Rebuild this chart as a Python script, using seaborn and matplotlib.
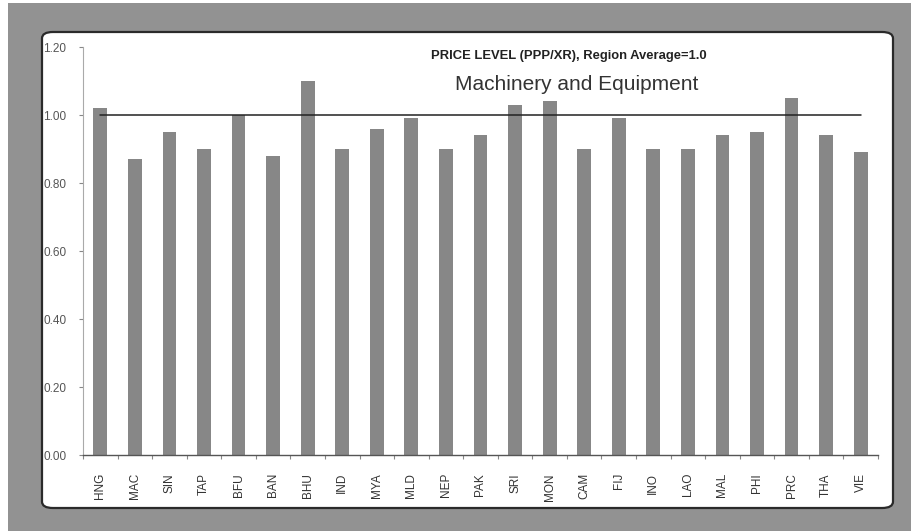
import numpy as np
import matplotlib
matplotlib.use("Agg")
import matplotlib.pyplot as plt
from matplotlib.patches import FancyBboxPatch, Rectangle
import seaborn as sns
import pandas as pd

countries = ["HNG", "MAC", "SIN", "TAP", "BFU", "BAN", "BHU", "IND", "MYA", "MLD",
             "NEP", "PAK", "SRI", "MON", "CAM", "FIJ", "INO", "LAO", "MAL", "PHI",
             "PRC", "THA", "VIE"]
price_level = [1.02, 0.87, 0.95, 0.90, 1.00, 0.88, 1.10, 0.90, 0.96, 0.99,
               0.90, 0.94, 1.03, 1.04, 0.90, 0.99, 0.90, 0.90, 0.94, 0.95,
               1.05, 0.94, 0.89]
region_average = 1.0
yticks = [0.0, 0.2, 0.4, 0.6, 0.8, 1.0, 1.2]
ytick_labels = ["0.00", "0.20", "0.40", "0.60", "0.80", "1.00", "1.20"]

sns.set_theme(style="white")
plt.rcParams['font.family'] = ['Liberation Sans', 'DejaVu Sans']

W, H = 912, 531
fig = plt.figure(figsize=(W / 100, H / 100), dpi=100)
fig.patch.set_facecolor("white")

# gray scanned background
fig.patches.append(Rectangle((8 / W, 0), 1 - 8 / W, 1 - 3 / H, transform=fig.transFigure,
                             facecolor="#929292", edgecolor="none", zorder=0))
# white rounded panel
px0, py0, px1, py1 = 42, 32, 893, 508
fig.patches.append(FancyBboxPatch((px0 / W, 1 - py1 / H), (px1 - px0) / W, (py1 - py0) / H,
                                  boxstyle="round,pad=0,rounding_size=0.012",
                                  transform=fig.transFigure, facecolor="white",
                                  edgecolor="#2a2a2a", linewidth=1.6, zorder=1))

ax = fig.add_axes([83 / W, 1 - 455 / H, (878 - 83) / W, (455 - 47) / H])
ax.set_zorder(2)
ax.patch.set_alpha(0)

df = pd.DataFrame({"country": countries, "value": price_level})
sns.barplot(data=df, x="country", y="value", color="#878787", saturation=1,
            width=0.4, ax=ax, edgecolor="none")

pos = np.arange(len(countries))
ax.plot(pos, [region_average] * len(countries), color="#222222", lw=1.1, zorder=3)

ax.set_xlim(-0.5, len(countries) - 0.5)
ax.set_ylim(0, 1.2)
ax.set_yticks(yticks)
ax.set_yticklabels(ytick_labels)
ax.set_xlabel("")
ax.set_ylabel("")
ax.set_xticks(pos)
ax.set_xticklabels(countries, rotation=90)
ax.set_xticks(np.arange(len(countries) + 1) - 0.5, minor=True)

for s in ["top", "right"]:
    ax.spines[s].set_visible(False)
ax.spines["left"].set_color("#aaaaaa")
ax.spines["left"].set_linewidth(0.8)
ax.spines["bottom"].set_color("#555555")
ax.spines["bottom"].set_linewidth(1.0)

ax.tick_params(axis="y", which="major", left=True, length=3, width=0.8, color="#888888",
               pad=9, labelsize=8.5, labelcolor="#555555")
ax.tick_params(axis="x", which="major", bottom=False, pad=7, labelsize=8.5, labelcolor="#333333")
ax.tick_params(axis="x", which="minor", bottom=True, length=3, width=0.8, color="#888888")

fig.text(431 / W, 1 - 56 / H, "PRICE LEVEL (PPP/XR), Region Average=1.0", fontsize=9.4,
         fontweight="bold", color="#222222", ha="left", va="center", zorder=5)
fig.text(577 / W, 1 - 84 / H, "Machinery and Equipment", fontsize=15,
         color="#333333", ha="center", va="center", zorder=5)

fig.savefig("out.png", dpi=100, facecolor=fig.get_facecolor())
